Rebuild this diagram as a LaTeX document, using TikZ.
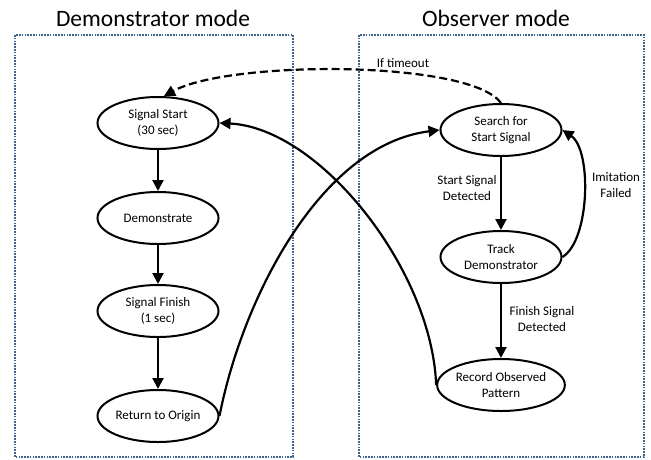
\documentclass[tikz,border=0pt]{standalone}
\usepackage{fontspec}
\setmainfont{Carlito}
\usetikzlibrary{arrows.meta, positioning, shapes.geometric}
\definecolor{colorBox}{HTML}{3F6390}

\begin{document}
\begin{tikzpicture}[x=1pt, y=-1pt,
        state/.style={draw, ellipse, line width=2pt, minimum width=121pt, minimum height=52pt, inner sep=0pt, align=center, font=\fontsize{13}{15.5}\selectfont},
        modebox/.style={draw=colorBox, line width=2.2pt, dash pattern=on 1.6pt off 1.2pt},
        trans/.style={line width=2.2pt, -{Triangle[length=11pt, width=11pt]}},
        lbl/.style={align=center, font=\fontsize{13}{15.5}\selectfont},
        title/.style={font=\fontsize{23.5}{27}\selectfont}]
        \useasboundingbox (0,0) rectangle (651,459);

        \draw[modebox] (15,35) rectangle (293,457);
        \draw[modebox] (359,35) rectangle (644,457);
        \node[title] (demotitle) at (153,18) {Demonstrator mode};
        \node[title] (obstitle) at (496,18) {Observer mode};

        \node[state] (start) at (158,123) {Signal Start\\(30 sec)};
        \node[state] (demo) at (158,218) {Demonstrate};
        \node[state] (finish) at (158,311) {Signal Finish\\(1 sec)};
        \node[state] (return) at (158,416) {Return to Origin};

        \node[state] (search) at (501,130) {Search for\\Start Signal};
        \node[state] (track) at (501,257) {Track\\Demonstrator};
        \node[state] (record) at (501,385) {Record Observed\\Pattern};

        \draw[trans] (start) -- (demo);
        \draw[trans] (demo) -- (finish);
        \draw[trans] (finish) -- (return);
        \draw[trans] (search) -- (track);
        \draw[trans] (track) -- (record);

        \draw[trans] (return.east) .. controls (242,300) and (320,145) .. (search.west);
        \draw[trans] (record.west) .. controls (432,270) and (320,128) .. (start.east);
        \draw[trans] (track.east) .. controls (590,240) and (592,150) .. (search.east);
        \draw[trans, dashed, dash pattern=on 8pt off 4pt] (search.north) .. controls (470,60) and (230,60) .. ([xshift=6pt]start.north);

        \node[lbl] (timeout) at (403,63) {If timeout};
        \node[lbl] (startdet) at (467,188) {Start Signal\\Detected};
        \node[lbl] (failed) at (616,185) {Imitation\\Failed};
        \node[lbl] (finishdet) at (542,319) {Finish Signal\\Detected};
    \end{tikzpicture}
\end{document}
